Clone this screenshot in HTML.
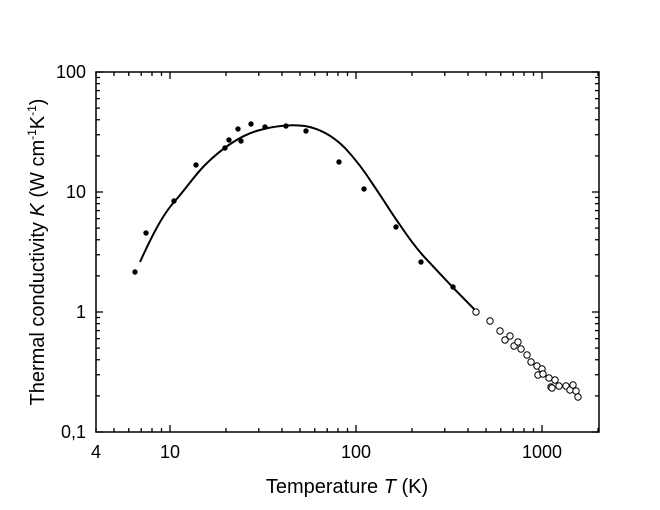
<!DOCTYPE html>
<html><head><meta charset="utf-8"><style>
html,body{margin:0;padding:0;background:#fff;}
svg{display:block;font-family:"Liberation Sans",Arial,sans-serif;}
</style></head><body>
<svg id="s" width="660" height="510" viewBox="0 0 660 510" xmlns="http://www.w3.org/2000/svg">
<rect x="0" y="0" width="660" height="510" fill="#fff"/>
<g id="ticks" stroke="#000" stroke-width="1.3"></g>
<rect x="96" y="72" width="503" height="360" fill="none" stroke="#000" stroke-width="1.5"/>
<g font-size="18" fill="#000" text-anchor="end">
<text x="86" y="78">100</text>
<text x="86" y="198">10</text>
<text x="86" y="318">1</text>
<text x="86" y="438">0,1</text>
</g>
<g font-size="18" fill="#000" text-anchor="middle">
<text x="96" y="458">4</text>
<text x="170" y="458">10</text>
<text x="356" y="458">100</text>
<text x="542" y="458">1000</text>
</g>
<text x="347" y="493" font-size="20" text-anchor="middle">Temperature <tspan font-style="italic">T</tspan> (K)</text>
<text transform="translate(44,252) rotate(-90)" font-size="20" text-anchor="middle">Thermal conductivity <tspan font-style="italic">K</tspan> (W cm<tspan font-size="12" dy="-8">-1</tspan><tspan dy="8">K</tspan><tspan font-size="12" dy="-8">-1</tspan><tspan dy="8">)</tspan></text>
<path d="M140,262 C150,240 162,215 175,201 C188,186 195,175 205,165 C220,150 240,135 260,130 C275,126 290,124 305,126 C322,129 335,138 345,148 C358,162 365,172 372,183 C385,202 392,214 400,225 C412,243 420,253 430,263 C442,276 452,287 476,311" fill="none" stroke="#000" stroke-width="2"/>
<g id="pts"></g>
</svg>
<script>
var NS="http://www.w3.org/2000/svg",t=document.getElementById('ticks'),p=document.getElementById('pts');
function ln(x1,y1,x2,y2){var l=document.createElementNS(NS,'line');l.setAttribute('x1',x1);l.setAttribute('y1',y1);l.setAttribute('x2',x2);l.setAttribute('y2',y2);t.appendChild(l);}
function X(v){return 96+186*(Math.log10(v)-Math.log10(4));}
function Y(v){return 72+120*(2-Math.log10(v));}
[4,5,6,7,8,9,10,20,30,40,50,60,70,80,90,100,200,300,400,500,600,700,800,900,1000,2000].forEach(function(v){
 var x=X(v),m=(v==10||v==100||v==1000)?7:4;ln(x,432,x,432-m);ln(x,72,x,72+m);});
[0.1,1,10,100].forEach(function(d){for(var k=1;k<10;k++){var v=d*k;if(v>100)break;var y=Y(v),m=k==1?7:4;ln(96,y,96+m,y);ln(599,y,599-m,y);}});
var f=[[135,272],[146,233],[174,201],[196,165],[225,148],[229,140],[238,129],[241,141],[251,124],[265,127],[286,126],[306,131],[339,162],[364,189],[396,227],[421,262],[453,287]];
f.forEach(function(a){var c=document.createElementNS(NS,'circle');c.setAttribute('cx',a[0]);c.setAttribute('cy',a[1]);c.setAttribute('r',2.7);c.setAttribute('fill','#000');p.appendChild(c);});
var o=[[476,312],[490,321],[500,331],[505,340],[510,336],[514,346],[518,342],[521,349],[527,355],[531,362],[537,366],[538,375],[542,369],[543,374],[549,378],[551,387],[552,388],[555,380],[559,386],[566,386],[570,390],[573,385],[576,391],[578,397]];
o.forEach(function(a){var c=document.createElementNS(NS,'circle');c.setAttribute('cx',a[0]);c.setAttribute('cy',a[1]);c.setAttribute('r',3.2);c.setAttribute('fill','#fff');c.setAttribute('stroke','#000');c.setAttribute('stroke-width','1');p.appendChild(c);});
</script>
</body></html>
